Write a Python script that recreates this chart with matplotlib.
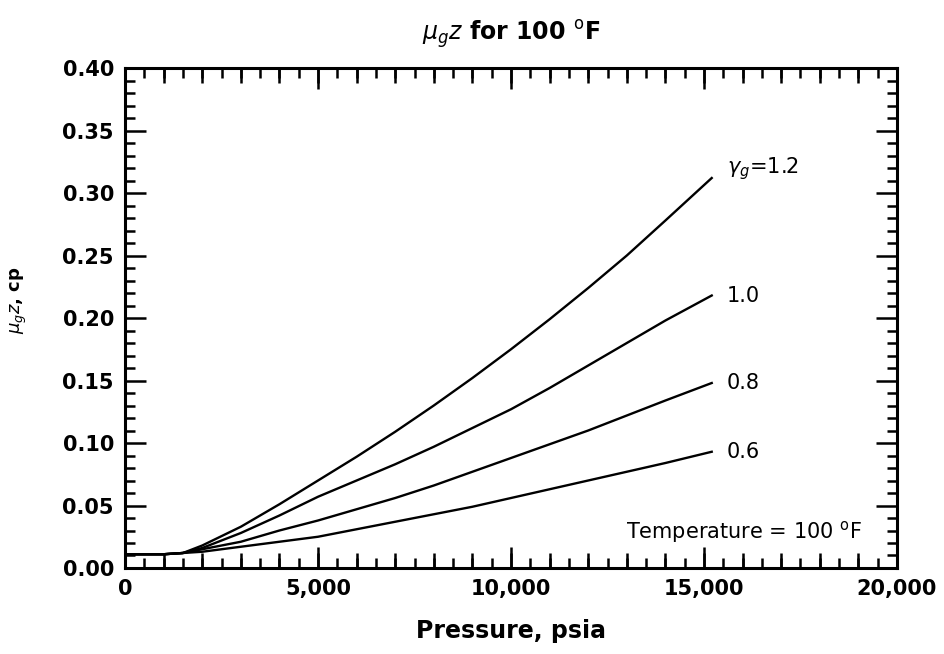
import numpy as np
import matplotlib
matplotlib.use("Agg")
import matplotlib.pyplot as plt
from matplotlib.ticker import MultipleLocator, FuncFormatter

plt.rcParams['font.family'] = ['DejaVu Sans']
plt.rcParams['mathtext.fontset'] = 'dejavusans'

# --- Data ---
pressure = [0, 1000, 1500, 2000, 3000, 4000, 5000, 6000, 7000, 8000,
            9000, 10000, 11000, 12000, 13000, 14000, 15200]
mu_z_12 = [0.011, 0.011, 0.012, 0.018, 0.033, 0.051, 0.070, 0.089, 0.109, 0.130,
           0.152, 0.175, 0.199, 0.224, 0.250, 0.278, 0.312]
mu_z_10 = [0.011, 0.011, 0.012, 0.016, 0.028, 0.042, 0.057, 0.070, 0.083, 0.097,
           0.112, 0.127, 0.144, 0.162, 0.180, 0.198, 0.218]
mu_z_08 = [0.011, 0.011, 0.012, 0.015, 0.021, 0.030, 0.038, 0.047, 0.056, 0.066,
           0.077, 0.088, 0.099, 0.110, 0.122, 0.134, 0.148]
mu_z_06 = [0.011, 0.011, 0.012, 0.013, 0.017, 0.021, 0.025, 0.031, 0.037, 0.043,
           0.049, 0.056, 0.063, 0.070, 0.077, 0.084, 0.093]
curve_labels = [r"$\gamma_g$=1.2", "1.0", "0.8", "0.6"]
x_ticks = [0, 5000, 10000, 15000, 20000]
y_ticks = [0.00, 0.05, 0.10, 0.15, 0.20, 0.25, 0.30, 0.35, 0.40]

fig = plt.figure(figsize=(9.45, 6.54), dpi=100)
ax = fig.add_axes([0.1323, 0.1315, 0.8169, 0.7645])

series = [mu_z_12, mu_z_10, mu_z_08, mu_z_06]
for i, (vals, lab) in enumerate(zip(series, curve_labels)):
    ax.plot(pressure, vals, color='black', lw=1.7)
    dy = 7 if i == 0 else 0
    ax.annotate(lab, (pressure[-1], vals[-1]), xytext=(11, dy),
                textcoords='offset points', va='center', ha='left',
                fontsize=15)

ax.text(0.955, 0.072, r"Temperature = 100 $^{\mathrm{o}}$F", transform=ax.transAxes,
        ha='right', va='center', fontsize=15)

ax.set_xlim(0, 20000)
ax.set_ylim(0, 0.40)
ax.set_xticks(x_ticks)
ax.set_yticks(y_ticks)
ax.xaxis.set_minor_locator(MultipleLocator(500))
ax.yaxis.set_minor_locator(MultipleLocator(0.01))
ax.xaxis.set_major_formatter(FuncFormatter(lambda v, p: f"{int(v):,}"))
ax.yaxis.set_major_formatter(FuncFormatter(lambda v, p: f"{v:.2f}"))

ax.tick_params(which='both', direction='in', top=True, right=True, width=1.8)
ax.tick_params(which='major', length=15, labelsize=15, pad=8)
ax.tick_params(which='minor', length=7)
for lbl in ax.get_xticklabels() + ax.get_yticklabels():
    lbl.set_fontweight('bold')

# medium ticks every 1000 psi on bottom and top
for loc in (0, 1):
    sec = ax.secondary_xaxis(loc)
    sec.set_xticks(np.arange(0, 20001, 1000))
    sec.tick_params(direction='in', length=11, width=1.8, labelbottom=False,
                    labeltop=False)
    sec.spines[:].set_visible(False)

for s in ax.spines.values():
    s.set_linewidth(2.2)

ax.set_xlabel("Pressure, psia", fontsize=17, fontweight='bold', labelpad=14)
ax.set_ylabel(r"$\mu_g z$, cp", fontsize=13, fontweight='bold')
ax.yaxis.set_label_coords(-0.125, 0.536)
ax.set_title(r"$\mu_g z$ for 100 $^{\mathrm{o}}$F", fontsize=17, fontweight='bold', pad=20)

fig.savefig("out.png", dpi=100)
